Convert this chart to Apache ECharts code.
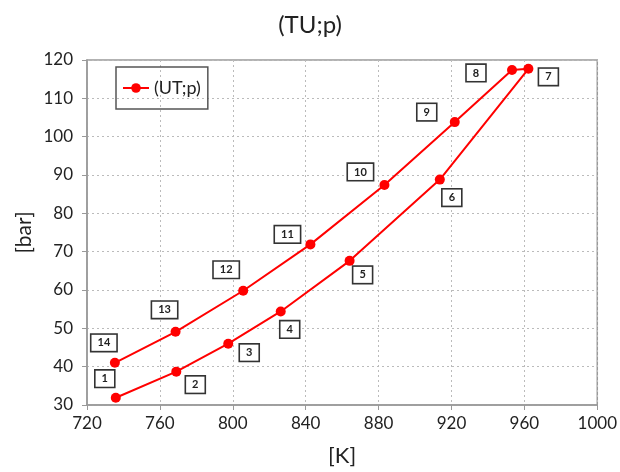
<!DOCTYPE html>
<html>
<head>
<meta charset="utf-8">
<script src="https://cdn.jsdelivr.net/npm/echarts@6/dist/echarts.min.js"></script>
<style>html,body{margin:0;padding:0;background:#fff}#c{width:620px;height:472px}</style>
</head>
<body>
<div id="c"></div>
<script>
// Data (points numbered 1..14, traversed in order)
const pointLabels = ['1','2','3','4','5','6','7','8','9','10','11','12','13','14'];
const temperatureK = [735.8, 769.0, 797.5, 826.3, 864.1, 913.6, 962.2, 953.2, 921.8, 883.2, 842.6, 805.7, 768.6, 735.3];
const pressureBar = [31.9, 38.7, 46.0, 54.4, 67.6, 88.8, 117.7, 117.4, 103.8, 87.4, 71.9, 59.8, 49.1, 41.0];
const xTicks = [720, 760, 800, 840, 880, 920, 960, 1000];
const yTicks = [30, 40, 50, 60, 70, 80, 90, 100, 110, 120];
const seriesName = '(UT;p)';
const chartTitle = '(TU;p)';

// Label offsets (layout only, px)
const labelOffsets = [[-11,-19],[19,13],[21,9],[9,18],[13,14],[12,18],[20,8],[-36,3],[-28,-10],[-24,-13],[-23,-10],[-17,-21],[-11,-22],[-11,-20]];

const FONT = 'Lato, "Open Sans", sans-serif';
const data = temperatureK.map((x, i) => [x, pressureBar[i]]);

const chart = echarts.init(document.getElementById('c'), null, {renderer: 'canvas'});
chart.setOption({
  animation: false,
  backgroundColor: '#fff',
  title: {
    text: chartTitle, left: 'center', top: 8,
    textStyle: { fontFamily: FONT, fontSize: 24, fontWeight: 'normal', color: '#222' }
  },
  legend: {
    left: 116, top: 67,
    data: [seriesName],
    borderColor: '#555', borderWidth: 1.5, borderRadius: 0,
    padding: [12, 7, 12, 6],
    itemWidth: 26, itemHeight: 12, itemGap: 5,
    textStyle: { fontFamily: FONT, fontSize: 18, color: '#222' }
  },
  grid: { left: 87, right: 20, top: 60, bottom: 64, show: true, borderColor: '#999', borderWidth: 1.5, backgroundColor: 'transparent' },
  xAxis: {
    type: 'value', min: xTicks[0], max: xTicks[xTicks.length - 1], interval: 40,
    name: '[K]', nameLocation: 'middle', nameGap: 40,
    nameTextStyle: { fontFamily: FONT, fontSize: 22, color: '#222' },
    axisLine: { show: true, lineStyle: { color: '#999', width: 1.5 } },
    axisTick: { show: true, length: 5, lineStyle: { color: '#999' } },
    axisLabel: { fontFamily: FONT, fontSize: 17, color: '#222', margin: 10, formatter: v => String(v) },
    splitLine: { show: true, lineStyle: { color: '#bbb', type: [2, 3], width: 1 } }
  },
  yAxis: {
    type: 'value', min: yTicks[0], max: yTicks[yTicks.length - 1], interval: 10,
    name: '[bar]', nameLocation: 'middle', nameGap: 52, nameMoveOverlap: false,
    nameTextStyle: { fontFamily: FONT, fontSize: 21, color: '#222' },
    axisLine: { show: true, lineStyle: { color: '#999', width: 1.5 } },
    axisTick: { show: true, length: 5, lineStyle: { color: '#999' } },
    axisLabel: { fontFamily: FONT, fontSize: 17, color: '#222', margin: 14 },
    splitLine: { show: true, lineStyle: { color: '#bbb', type: [2, 3], width: 1 } }
  },
  series: [{
    name: seriesName,
    type: 'line',
    data: data,
    symbol: 'circle',
    symbolSize: 10,
    color: '#ff0000',
    lineStyle: { color: '#ff0000', width: 2 },
    itemStyle: { color: '#ff0000' },
    label: {
      show: true,
      position: 'inside',
      formatter: p => pointLabels[p.dataIndex],
      fontFamily: FONT, fontSize: 11, fontWeight: 'bold', color: '#222',
      backgroundColor: '#fff', borderColor: '#333', borderWidth: 1.6,
      padding: [2, 6, 2, 6], lineHeight: 12
    },
    labelLayout: p => ({ dx: labelOffsets[p.dataIndex][0], dy: labelOffsets[p.dataIndex][1], hideOverlap: false })
  }]
});
</script>
</body>
</html>
